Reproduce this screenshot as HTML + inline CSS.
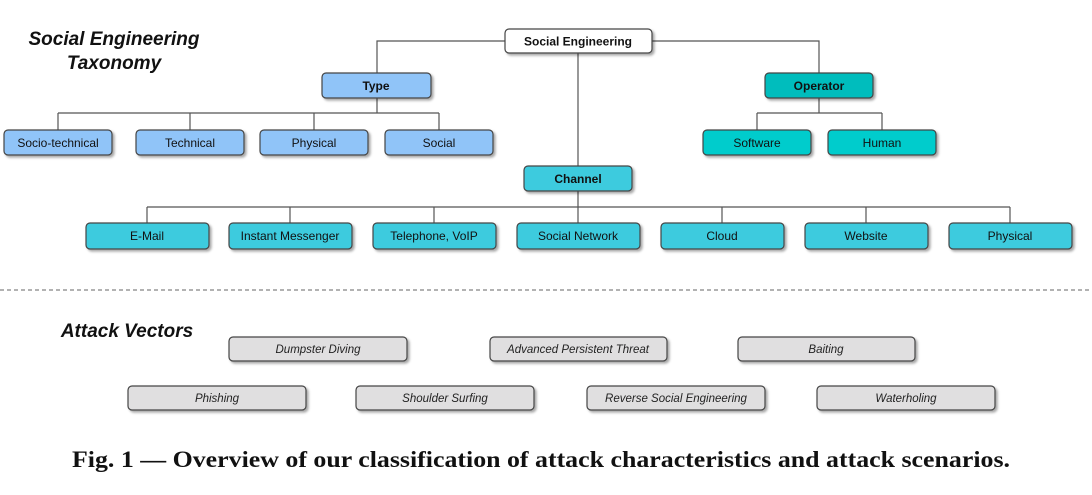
<!DOCTYPE html>
<html><head><meta charset="utf-8"><style>
html,body{margin:0;padding:0;background:#fff;width:1092px;height:495px;overflow:hidden}
svg text{font-family:"Liberation Sans",sans-serif}
</style></head><body>
<svg width="1092" height="495" viewBox="0 0 1092 495" xmlns="http://www.w3.org/2000/svg">
<defs>
<filter id="sh" x="-10%" y="-20%" width="130%" height="160%">
<feDropShadow dx="2" dy="2" stdDeviation="1.2" flood-color="#000" flood-opacity="0.35"/>
</filter>
</defs>
<g stroke="#555" stroke-width="1.2" fill="none">
<path d="M505 41 H377 V73 M652 41 H819 V73 M578 53 V166"/>
<path d="M377 98 V113 M58 113 H439 M58 113 V130 M190 113 V130 M314 113 V130 M439 113 V130"/>
<path d="M819 98 V113 M757 113 H882 M757 113 V130 M882 113 V130"/>
<path d="M578 191 V223 M147 207 H1010 M147 207 V223 M290 207 V223 M434 207 V223 M722 207 V223 M866 207 V223 M1010 207 V223"/>
</g>
<line x1="0" y1="290" x2="1092" y2="290" stroke="#666" stroke-width="1" stroke-dasharray="4,3"/>
<g stroke="#444" stroke-width="1.2" filter="url(#sh)">
<rect x="505" y="29" width="147" height="24" rx="4" fill="#fff"/>
<g fill="#90c4f8">
<rect x="322" y="73" width="109" height="25" rx="4"/>
<rect x="4" y="130" width="108" height="25" rx="4"/>
<rect x="136" y="130" width="108" height="25" rx="4"/>
<rect x="260" y="130" width="108" height="25" rx="4"/>
<rect x="385" y="130" width="108" height="25" rx="4"/>
</g>
<rect x="765" y="73" width="108" height="25" rx="4" fill="#00bdbd"/>
<g fill="#00cccc">
<rect x="703" y="130" width="108" height="25" rx="4"/>
<rect x="828" y="130" width="108" height="25" rx="4"/>
</g>
<g fill="#3ecbde">
<rect x="524" y="166" width="108" height="25" rx="4"/>
<rect x="86" y="223" width="123" height="26" rx="4"/>
<rect x="229" y="223" width="123" height="26" rx="4"/>
<rect x="373" y="223" width="123" height="26" rx="4"/>
<rect x="517" y="223" width="123" height="26" rx="4"/>
<rect x="661" y="223" width="123" height="26" rx="4"/>
<rect x="805" y="223" width="123" height="26" rx="4"/>
<rect x="949" y="223" width="123" height="26" rx="4"/>
</g>
<g fill="#e0dfe0">
<rect x="229" y="337" width="178" height="24" rx="4"/>
<rect x="490" y="337" width="177" height="24" rx="4"/>
<rect x="738" y="337" width="177" height="24" rx="4"/>
<rect x="128" y="386" width="178" height="24" rx="4"/>
<rect x="356" y="386" width="178" height="24" rx="4"/>
<rect x="587" y="386" width="178" height="24" rx="4"/>
<rect x="817" y="386" width="178" height="24" rx="4"/>
</g>
</g>
<g font-size="12" fill="#111" text-anchor="middle">
<text x="578" y="45.5" font-weight="bold">Social Engineering</text>
<text x="376" y="90" font-weight="bold">Type</text>
<text x="58" y="147">Socio-technical</text>
<text x="190" y="147">Technical</text>
<text x="314" y="147">Physical</text>
<text x="439" y="147">Social</text>
<text x="819" y="90" font-weight="bold">Operator</text>
<text x="757" y="147">Software</text>
<text x="882" y="147">Human</text>
<text x="578" y="183" font-weight="bold">Channel</text>
<text x="147" y="240">E-Mail</text>
<text x="290" y="240">Instant Messenger</text>
<text x="434" y="240">Telephone, VoIP</text>
<text x="578" y="240">Social Network</text>
<text x="722" y="240">Cloud</text>
<text x="866" y="240">Website</text>
<text x="1010" y="240">Physical</text>
</g>
<g font-size="11.5" fill="#222" text-anchor="middle" font-style="italic">
<text x="318" y="353">Dumpster Diving</text>
<text x="578" y="353">Advanced Persistent Threat</text>
<text x="826" y="353">Baiting</text>
<text x="217" y="402">Phishing</text>
<text x="445" y="402">Shoulder Surfing</text>
<text x="676" y="402">Reverse Social Engineering</text>
<text x="906" y="402">Waterholing</text>
</g>
<g font-size="19" font-weight="bold" font-style="italic" fill="#111" text-anchor="middle">
<text x="114" y="45">Social Engineering</text>
<text x="114" y="69">Taxonomy</text>
<text x="127" y="337">Attack Vectors</text>
</g>
<text x="72" y="467" textLength="938" lengthAdjust="spacingAndGlyphs" font-size="23" font-weight="bold" fill="#111" style="font-family:'Liberation Serif',serif">Fig. 1 — Overview of our classification of attack characteristics and attack scenarios.</text>
</svg>
</body></html>
